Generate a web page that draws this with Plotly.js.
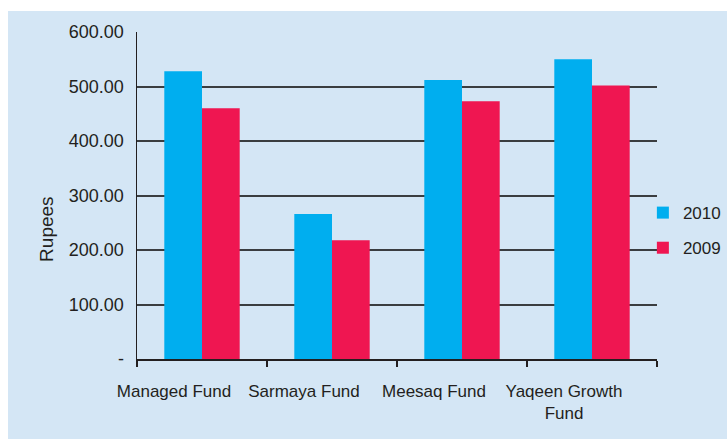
<!DOCTYPE html>
<html>
<head>
<meta charset="utf-8">
<script src="https://cdn.plot.ly/plotly-3.0.1.min.js"></script>
<style>
  html, body { margin: 0; padding: 0; background: #ffffff; width: 727px; height: 439px; overflow: hidden; }
  #chart { position: absolute; left: 8px; top: 11px; width: 719px; height: 428px; }
</style>
</head>
<body>
<div id="chart"></div>
<script>
const categories = ["Managed Fund", "Sarmaya Fund", "Meesaq Fund", "Yaqeen Growth<br>Fund"];
const values2010 = [528, 266, 512, 550];
const values2009 = [460, 218, 473, 502];
const seriesNames = ["2010", "2009"];
const yTickVals = [0, 100, 200, 300, 400, 500, 600];
const yTickText = ["-", "100.00", "200.00", "300.00", "400.00", "500.00", "600.00"];

const fontFam = "Liberation Sans, Arial, Helvetica, sans-serif";
const textColor = "#231f20";

const traces = [
  { type: "bar", name: seriesNames[0], x: categories, y: values2010,
    marker: { color: "#00aeef" }, legendgroup: "a", hoverinfo: "none" },
  { type: "bar", name: seriesNames[1], x: categories, y: values2009,
    marker: { color: "#ef1651" }, legendgroup: "b", hoverinfo: "none" }
];

const layout = {
  width: 719, height: 428,
  paper_bgcolor: "#d4e6f5",
  plot_bgcolor: "rgba(0,0,0,0)",
  margin: { l: 129, r: 70, t: 21, b: 79.5, autoexpand: false },
  barmode: "group",
  bargap: 0.42,
  bargroupgap: 0,
  font: { family: fontFam, color: textColor },
  xaxis: {
    type: "category",
    showline: true, linecolor: "#231f20", linewidth: 1.5,
    ticks: "outside", tickson: "boundaries", ticklen: 6, tickwidth: 1.5, tickcolor: "#231f20",
    tickfont: { size: 17, family: fontFam, color: textColor },
    ticklabelstandoff: 16, ticklabelshift: -28,
    showgrid: false, zeroline: false, fixedrange: true, automargin: false
  },
  yaxis: {
    range: [0, 600],
    tickvals: yTickVals, ticktext: yTickText,
    tickfont: { size: 18, family: fontFam, color: textColor },
    ticks: "", ticklabelstandoff: 8,
    showline: true, linecolor: "#231f20", linewidth: 1.5,
    showgrid: true, gridcolor: "#3a3d40", gridwidth: 2,
    zeroline: false, fixedrange: true, automargin: false
  },
  showlegend: true,
  legend: {
    xref: "container", yref: "container",
    x: 0.883, xanchor: "left", y: 0.487, yanchor: "middle",
    bgcolor: "rgba(0,0,0,0)",
    font: { size: 17, family: fontFam, color: textColor },
    traceorder: "grouped", tracegroupgap: 10
  },
  annotations: [
    { text: "Rupees", xref: "paper", yref: "paper", x: -0.173, y: 0.398,
      textangle: -90, showarrow: false, xanchor: "center", yanchor: "middle",
      font: { size: 19, family: fontFam, color: textColor } }
  ]
};

Plotly.newPlot("chart", traces, layout, { displayModeBar: false, staticPlot: true });
</script>
</body>
</html>
